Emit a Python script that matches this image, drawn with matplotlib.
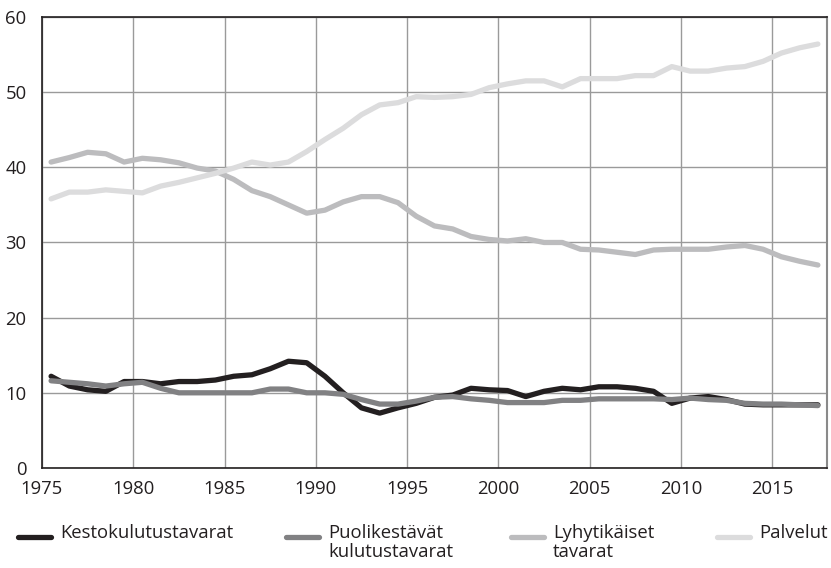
import matplotlib
matplotlib.use("Agg")
import matplotlib.pyplot as plt
from matplotlib.lines import Line2D

plt.rcParams['font.family'] = ['Open Sans', 'DejaVu Sans']

years = list(range(1975, 2018))

kesto = [12.2, 10.9, 10.4, 10.2, 11.5, 11.5, 11.2, 11.5, 11.5, 11.7,
         12.2, 12.4, 13.2, 14.2, 14.0, 12.2, 10.0, 8.0, 7.3, 8.0,
         8.6, 9.4, 9.7, 10.6, 10.4, 10.3, 9.5, 10.2, 10.6, 10.4,
         10.8, 10.8, 10.6, 10.2, 8.6, 9.3, 9.5, 9.1, 8.5, 8.4,
         8.4, 8.4, 8.4]
puoli = [11.6, 11.4, 11.2, 10.9, 11.2, 11.4, 10.6, 10.0, 10.0, 10.0,
         10.0, 10.0, 10.5, 10.5, 10.0, 10.0, 9.8, 9.1, 8.5, 8.5,
         8.9, 9.4, 9.5, 9.2, 9.0, 8.7, 8.7, 8.7, 9.0, 9.0,
         9.2, 9.2, 9.2, 9.2, 9.1, 9.3, 9.1, 9.0, 8.6, 8.5,
         8.5, 8.4, 8.3]
lyhyt = [40.7, 41.3, 42.0, 41.8, 40.7, 41.2, 41.0, 40.6, 39.9, 39.5,
         38.4, 36.9, 36.1, 35.0, 33.9, 34.3, 35.4, 36.1, 36.1, 35.3,
         33.5, 32.2, 31.8, 30.8, 30.4, 30.2, 30.5, 30.0, 30.0, 29.1,
         29.0, 28.7, 28.4, 29.0, 29.1, 29.1, 29.1, 29.4, 29.6, 29.1,
         28.1, 27.5, 27.0]
palvelut = [35.8, 36.7, 36.7, 37.0, 36.8, 36.6, 37.5, 38.0, 38.6, 39.2,
            39.9, 40.7, 40.3, 40.7, 42.1, 43.7, 45.2, 47.0, 48.3, 48.6,
            49.4, 49.3, 49.4, 49.7, 50.6, 51.1, 51.5, 51.5, 50.7, 51.8,
            51.8, 51.8, 52.2, 52.2, 53.4, 52.8, 52.8, 53.2, 53.4, 54.1,
            55.2, 55.9, 56.4]

labels = ['Kestokulutustavarat', 'Puolikestävät\nkulutustavarat',
          'Lyhytikäiset\ntavarat', 'Palvelut']
colors = ['#231f20', '#818183', '#bcbcbe', '#dcdcdd']
series = [kesto, puoli, lyhyt, palvelut]

text_color = '#231f20'
fs = 13.3

fig = plt.figure(figsize=(8.31, 5.68), dpi=100)
ax = fig.add_axes([0.0505, 0.1761, 0.9447, 0.794])

x = [y + 0.5 for y in years]
for vals, col in zip(series, colors):
    ax.plot(x, vals, color=col, lw=3.8, solid_capstyle='round',
            solid_joinstyle='round', zorder=3)

ax.set_xlim(1975, 2018)
ax.set_ylim(0, 60)
ax.set_xticks(range(1975, 2016, 5))
ax.set_yticks(range(0, 61, 10))
ax.grid(True, color='#9a9a9a', lw=1)
ax.set_axisbelow(True)
ax.tick_params(length=0, labelsize=fs, labelcolor=text_color, pad=9)
ax.tick_params(axis='y', pad=11)

for side in ['top', 'left', 'bottom']:
    ax.spines[side].set_color('#231f20')
    ax.spines[side].set_linewidth(1.2)
ax.spines['right'].set_color('#8a8a8a')
ax.spines['right'].set_linewidth(1.5)

# legend drawn by hand: handle aligned with the first label line
W, H = 831, 568
handle_x = [18, 286, 511, 717]
text_x = [60, 328, 553, 759]
ly = 537
for hx, tx, lab, col in zip(handle_x, text_x, labels, colors):
    fig.add_artist(Line2D([hx / W, (hx + 33) / W], [1 - ly / H, 1 - ly / H],
                          transform=fig.transFigure, color=col, lw=3.8,
                          solid_capstyle='round'))
    fig.text(tx / W, 1 - (ly - 13) / H, lab, fontsize=fs, color=text_color,
             va='top', ha='left', linespacing=1.1)

fig.savefig('out.png', dpi=100)
